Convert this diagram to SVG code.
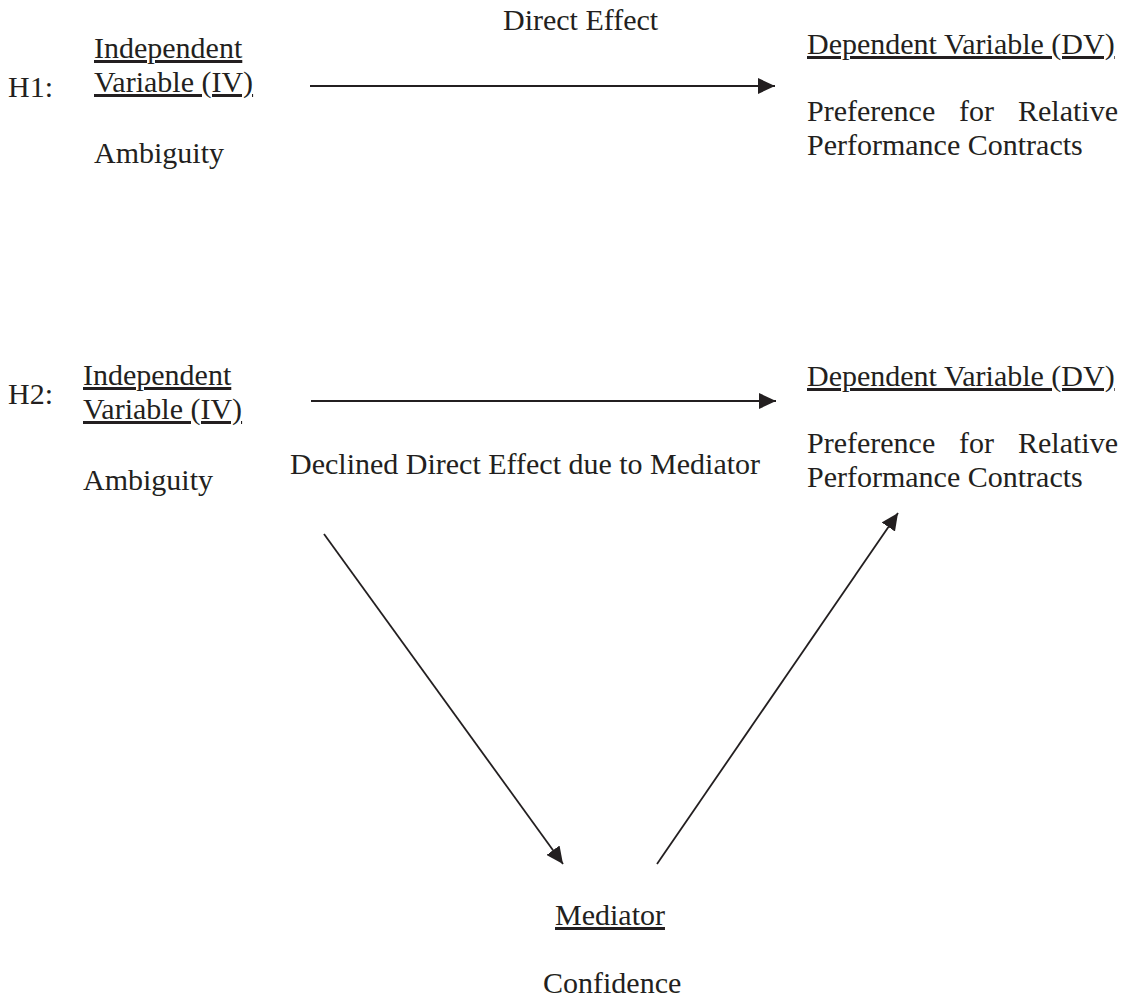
<svg xmlns="http://www.w3.org/2000/svg" width="1130" height="999" viewBox="0 0 1130 999">
<style>
text{font-family:"Liberation Serif","Times New Roman",serif;font-size:30px;fill:#231f20}
.u{text-decoration:underline}
.c{stroke:#231f20;stroke-width:1.8;fill:none}
</style>
<defs>
<marker id="ah" markerUnits="userSpaceOnUse" markerWidth="18" markerHeight="16" refX="17" refY="8" orient="auto">
<path d="M0,0 L17,8 L0,16 z" fill="#231f20"/>
</marker>
</defs>
<rect width="1130" height="999" fill="#fff"/>
<g id="h1-label"><text x="8" y="97">H1:</text></g>
<g id="h1-iv"><text class="u" x="94" y="58">Independent</text><text class="u" x="94" y="92">Variable (IV)</text><text x="94" y="163">Ambiguity</text></g>
<g id="h1-dv"><text class="u" x="807" y="54">Dependent Variable (DV)</text>
<text y="121"><tspan x="807">Preference</tspan><tspan x="959">for</tspan><tspan x="1118" text-anchor="end">Relative</tspan></text>
<text x="807" y="155">Performance Contracts</text></g>
<g id="h1-effect"><text x="503" y="30">Direct Effect</text></g>
<g id="h2-label"><text x="8" y="404">H2:</text></g>
<g id="h2-iv"><text class="u" x="83" y="385">Independent</text><text class="u" x="83" y="419">Variable (IV)</text><text x="83" y="490">Ambiguity</text></g>
<g id="h2-dv"><text class="u" x="807" y="386">Dependent Variable (DV)</text>
<text y="453"><tspan x="807">Preference</tspan><tspan x="959">for</tspan><tspan x="1118" text-anchor="end">Relative</tspan></text>
<text x="807" y="487">Performance Contracts</text></g>
<g id="h2-effect"><text x="290" y="474">Declined Direct Effect due to Mediator</text></g>
<g id="mediator"><text class="u" x="555" y="925">Mediator</text><text x="543" y="993">Confidence</text></g>
<g id="connectors">
<line class="c" x1="310" y1="86" x2="775" y2="86" marker-end="url(#ah)"/>
<line class="c" x1="311" y1="401" x2="776" y2="401" marker-end="url(#ah)"/>
<line class="c" x1="324" y1="534" x2="563" y2="864" marker-end="url(#ah)"/>
<line class="c" x1="657" y1="864" x2="898" y2="513" marker-end="url(#ah)"/>
</g>
</svg>
